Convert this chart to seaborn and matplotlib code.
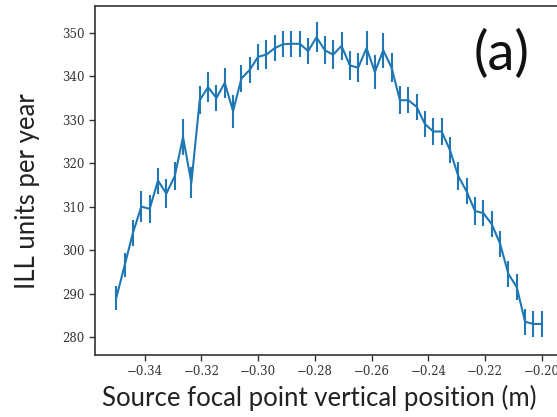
import numpy as np
import pandas as pd
import seaborn as sns
import matplotlib
matplotlib.use("Agg")
import matplotlib.pyplot as plt

# source focal point vertical position (m)
position = np.linspace(-0.35, -0.20, 52)
# ILL units per year
rate = [289, 296.5, 304, 310, 309.5, 316, 313, 317, 326, 315.5,
        334.5, 337.5, 335, 338.5, 332, 339.5, 341.5, 344.5, 345, 346.5,
        347.4, 347.5, 347.5, 345.8, 349, 346, 345, 347, 342.5, 342,
        346.5, 341, 346, 342, 334.5, 334.5, 333, 329, 327.3, 327.3,
        323, 317, 313.5, 309, 308.5, 306, 301.5, 294.5, 291.5, 283.5,
        283, 283]
err = [2.7, 2.8, 3.0, 3.6, 3.2, 3.0, 3.4, 3.2, 4.2, 3.6,
       3.2, 3.4, 3.0, 3.4, 3.8, 3.2, 3.0, 3.0, 3.4, 3.0,
       3.0, 3.0, 3.0, 3.0, 3.4, 3.2, 3.4, 3.2, 3.4, 3.4,
       4.0, 4.0, 4.0, 3.4, 3.2, 3.0, 3.0, 3.0, 3.2, 3.2,
       3.0, 3.2, 3.0, 3.2, 3.0, 3.0, 3.0, 3.0, 3.0, 3.0,
       3.0, 3.0]

df = pd.DataFrame({"pos": position, "rate": rate, "err": err})

sns.set_style("ticks")
fig = plt.figure(figsize=(5.57, 4.17), dpi=100)
ax = fig.add_axes([0.1706, 0.1487, 0.8402, 0.837])

sns.lineplot(data=df, x="pos", y="rate", ax=ax, color="#1f77b4", lw=1.5)
ax.errorbar(df["pos"], df["rate"], yerr=df["err"], fmt="none",
            ecolor="#1f77b4", elinewidth=1.5)

ax.set_xlim(-0.3575, -0.1925)
ax.set_ylim(275.85, 356.2)
ax.set_xticks([-0.34, -0.32, -0.30, -0.28, -0.26, -0.24, -0.22, -0.20])
ax.set_yticks([280, 290, 300, 310, 320, 330, 340, 350])
ax.xaxis.set_major_formatter(
    matplotlib.ticker.FuncFormatter(lambda v, p: ("%.2f" % v).replace("-", "\u2212")))
for lab in ax.get_xticklabels() + ax.get_yticklabels():
    lab.set_family("DejaVu Serif")
    lab.set_fontsize(8.5)
    lab.set_color("#333333")
ax.tick_params(length=4, width=1, color="#333333")
for s in ax.spines.values():
    s.set_color("#333333")
    s.set_linewidth(1.2)

ax.set_xlabel("Source focal point vertical position (m)", family="Lato",
              fontsize=18.5, color="#222222")
ax.set_ylabel("ILL units per year", family="Lato", fontsize=18.5,
              color="#222222")
ax.xaxis.set_label_coords(0.479, -0.085)
ax.yaxis.set_label_coords(-0.118, 0.47)
ax.text(0.868, 0.862, "(a)", transform=ax.transAxes, family="Lato",
        fontsize=39, ha="center", va="center", color="#111111")

fig.savefig("out.png", dpi=100)
